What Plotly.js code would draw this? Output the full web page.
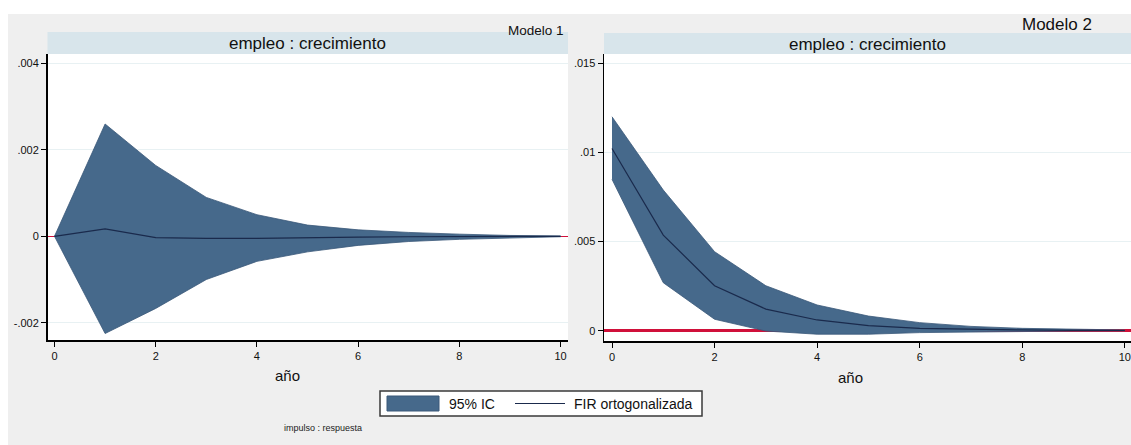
<!DOCTYPE html>
<html><head><meta charset="utf-8">
<script src="https://cdn.plot.ly/plotly-3.0.1.min.js"></script>
<style>
body{margin:0;background:#ffffff;width:1131px;height:445px;overflow:hidden}
#chart{position:absolute;left:8px;top:14px;width:1123px;height:431px}
</style>
</head><body><div id="chart"></div>
<script>
// ---- data ----
const steps = [0,1,2,3,4,5,6,7,8,9,10];
const m1Upper = [0, 0.00260, 0.00164, 0.00090, 0.00050, 0.00026, 0.00015, 0.00009, 0.00005, 0.00002, 0.00001];
const m1Lower = [0, -0.00225, -0.00167, -0.00100, -0.00058, -0.00036, -0.00021, -0.00012, -0.00007, -0.00004, -0.00001];
const m1Irf   = [0, 0.00017, -0.00003, -0.00005, -0.00005, -0.00003, -0.00002, -0.00001, -0.00001, 0, 0];
const m2Upper = [0.01200, 0.00789, 0.00443, 0.00252, 0.00144, 0.00082, 0.00045, 0.00024, 0.00013, 0.00007, 0.00004];
const m2Lower = [0.00849, 0.00269, 0.00064, -0.00002, -0.00020, -0.00020, -0.00011, -0.00007, -0.00004, -0.00002, -0.00001];
const m2Irf   = [0.01022, 0.00536, 0.00252, 0.00121, 0.00060, 0.00028, 0.00013, 0.00007, 0.00004, 0.00002, 0.00001];
const xTicks = [0,2,4,6,8,10];
const xTickText = ['0','2','4','6','8','10'];
const y1Ticks = [-0.002, 0, 0.002, 0.004];
const y1TickText = ['-.002','0','.002','.004'];
const y2Ticks = [0, 0.005, 0.01, 0.015];
const y2TickText = ['0','.005','.01','.015'];
const panelTitle = 'empleo : crecimiento';
const modelNames = ['Modelo 1','Modelo 2'];
const xTitle = 'año';
const legendNames = ['95% IC','FIR ortogonalizada'];
const noteText = 'impulso : respuesta';

// ---- styling ----
const W = 1123, H = 431, OX = 8, OY = 14;
const px = X => (X - OX) / W;
const py = Y => 1 - (Y - OY) / H;
const FONT = 'Liberation Sans, Arial, sans-serif';
const bandColor = '#46698b';
const bandEdge = '#3a5878';
const irfColor = '#1a2a4c';
const redColor = '#d0103a';
const stripColor = '#d8e5eb';
const gridColor = '#e8f1f3';

function band(x, lo, hi, xa, ya) {
  return [
    {x: x, y: lo, type: 'scatter', mode: 'lines', xaxis: xa, yaxis: ya,
     line: {color: bandEdge, width: 0.8}, showlegend: false, hoverinfo: 'skip'},
    {x: x, y: hi, type: 'scatter', mode: 'lines', xaxis: xa, yaxis: ya, fill: 'tonexty',
     fillcolor: bandColor, line: {color: bandEdge, width: 0.8}, name: legendNames[0], showlegend: false}
  ];
}

const traces = [
  ...band(steps, m1Lower, m1Upper, 'x', 'y'),
  {x: steps, y: m1Irf, type: 'scatter', mode: 'lines', xaxis: 'x', yaxis: 'y',
   line: {color: irfColor, width: 1.2}, name: legendNames[1], showlegend: false},
  ...band(steps, m2Lower, m2Upper, 'x2', 'y2'),
  {x: steps, y: m2Irf, type: 'scatter', mode: 'lines', xaxis: 'x2', yaxis: 'y2',
   line: {color: irfColor, width: 1.2}, name: legendNames[1], showlegend: false}
];

const tickFont = {family: FONT, size: 11, color: '#111'};
function xAxis(dom, range, anchor) {
  return {domain: dom, range: range, anchor: anchor, showline: true, linecolor: '#000', linewidth: 1.5,
    ticks: 'outside', ticklen: 5, tickwidth: 1, tickcolor: '#000', tickvals: xTicks, ticktext: xTickText,
    tickfont: tickFont, showgrid: false, zeroline: false, fixedrange: true};
}
function yAxis(dom, range, anchor, tv, tt, zw) {
  return {domain: dom, range: range, anchor: anchor, showline: true, linecolor: '#000', linewidth: 1.5,
    ticks: 'outside', ticklen: 5, tickwidth: 1, tickcolor: '#000', tickvals: tv, ticktext: tt,
    tickfont: tickFont, showgrid: true, gridcolor: gridColor, gridwidth: 1,
    zeroline: true, zerolinecolor: redColor, zerolinewidth: zw, fixedrange: true};
}

const L = {x0: 47.5, x1: 568, top: 54, bottom: 340};
const R = {x0: 604, x1: 1131, top: 54, bottom: 341};

const layout = {
  width: W, height: H,
  margin: {l: 0, r: 0, t: 0, b: 0, pad: 0},
  paper_bgcolor: '#efefef', plot_bgcolor: '#ffffff',
  showlegend: false,
  xaxis: xAxis([px(L.x0), px(L.x1)], [-0.138, 10.146], 'y'),
  yaxis: yAxis([py(L.bottom), py(L.top)], [-0.0024, 0.00422], 'x', y1Ticks, y1TickText, 1.2),
  xaxis2: xAxis([px(R.x0), px(R.x1)], [-0.156, 10.12], 'y2'),
  yaxis2: yAxis([py(R.bottom), py(R.top)], [-0.00058, 0.01552], 'x2', y2Ticks, y2TickText, 3),
  shapes: [
    // strips
    {type: 'rect', xref: 'paper', yref: 'paper', x0: px(L.x0), x1: px(L.x1), y0: py(54), y1: py(32),
     fillcolor: stripColor, line: {width: 0}},
    {type: 'rect', xref: 'paper', yref: 'paper', x0: px(R.x0), x1: px(R.x1), y0: py(54), y1: py(33),
     fillcolor: stripColor, line: {width: 0}},
    // legend box
    {type: 'rect', xref: 'paper', yref: 'paper', x0: px(380), x1: px(702), y0: py(416), y1: py(391),
     fillcolor: '#ffffff', line: {color: '#3a3a3a', width: 1.5}},
    {type: 'rect', xref: 'paper', yref: 'paper', x0: px(387), x1: px(439), y0: py(411), y1: py(396),
     fillcolor: bandColor, line: {color: bandEdge, width: 1}},
    {type: 'line', xref: 'paper', yref: 'paper', x0: px(515), x1: px(565), y0: py(403.5), y1: py(403.5),
     line: {color: irfColor, width: 1.2}}
  ],
  annotations: [
    {xref: 'paper', yref: 'paper', x: px(307.5), y: py(43.5), text: panelTitle, showarrow: false,
     xanchor: 'center', yanchor: 'middle', font: {family: FONT, size: 17, color: '#111'}},
    {xref: 'paper', yref: 'paper', x: px(867.5), y: py(44.5), text: panelTitle, showarrow: false,
     xanchor: 'center', yanchor: 'middle', font: {family: FONT, size: 17, color: '#111'}},
    {xref: 'paper', yref: 'paper', x: px(566), y: py(30), text: modelNames[0], showarrow: false,
     xanchor: 'right', yanchor: 'middle', font: {family: FONT, size: 13.5, color: '#111'}},
    {xref: 'paper', yref: 'paper', x: px(1057), y: py(25), text: modelNames[1], showarrow: false,
     xanchor: 'center', yanchor: 'middle', font: {family: FONT, size: 17, color: '#111'}},
    {xref: 'paper', yref: 'paper', x: px(287), y: py(375), text: xTitle, showarrow: false,
     xanchor: 'center', yanchor: 'middle', font: {family: FONT, size: 15, color: '#111'}},
    {xref: 'paper', yref: 'paper', x: px(850), y: py(377), text: xTitle, showarrow: false,
     xanchor: 'center', yanchor: 'middle', font: {family: FONT, size: 15, color: '#111'}},
    {xref: 'paper', yref: 'paper', x: px(447), y: py(404), text: legendNames[0], showarrow: false,
     xanchor: 'left', yanchor: 'middle', font: {family: FONT, size: 14, color: '#111'}},
    {xref: 'paper', yref: 'paper', x: px(572), y: py(404), text: legendNames[1], showarrow: false,
     xanchor: 'left', yanchor: 'middle', font: {family: FONT, size: 14, color: '#111'}},
    {xref: 'paper', yref: 'paper', x: px(282), y: py(428), text: noteText, showarrow: false,
     xanchor: 'left', yanchor: 'middle', font: {family: FONT, size: 9, color: '#222'}}
  ]
};

Plotly.newPlot('chart', traces, layout, {displayModeBar: false, staticPlot: true});
</script>
</body></html>
